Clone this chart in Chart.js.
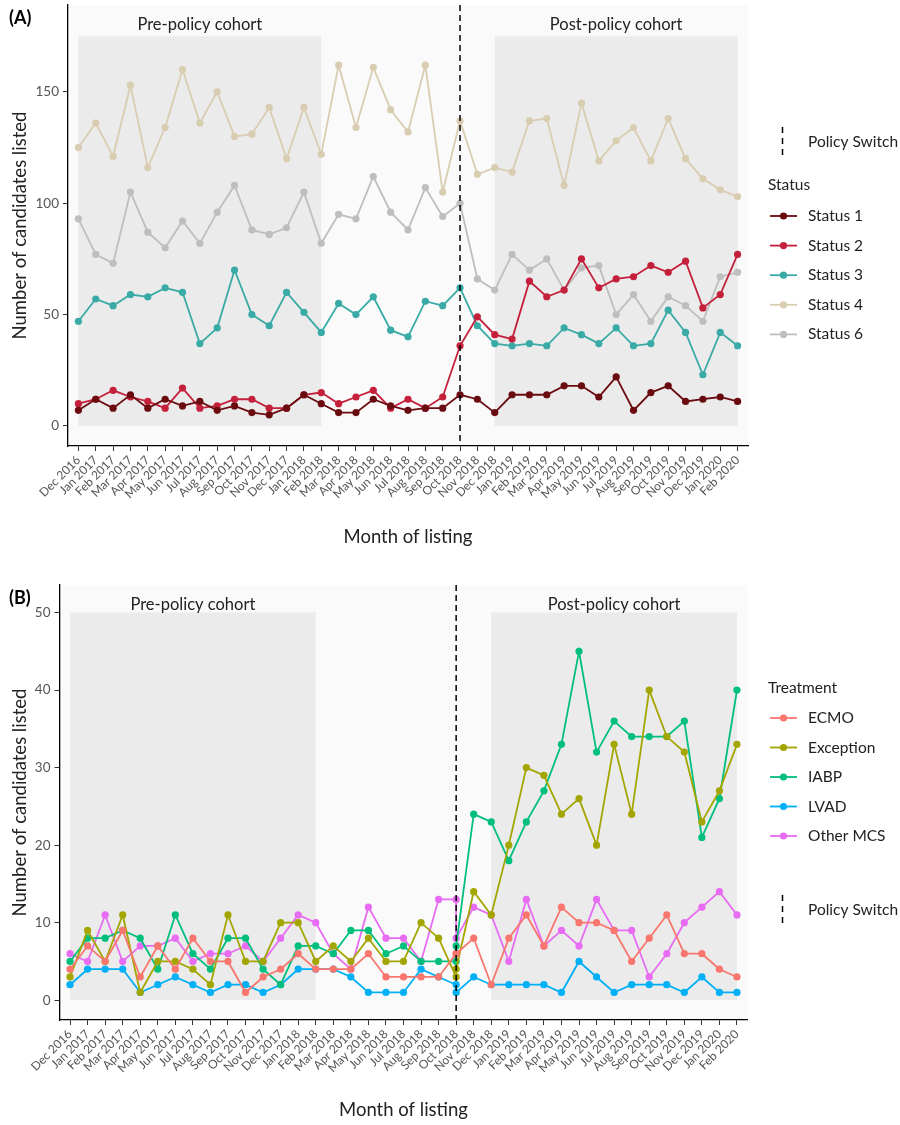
<!DOCTYPE html>
<html>
<head>
<meta charset="utf-8">
<script src="https://cdn.jsdelivr.net/npm/chart.js@4.4.1/dist/chart.umd.min.js"></script>
<style>
  html, body { margin: 0; padding: 0; background: #fff; }
  #wrap { position: relative; width: 900px; height: 1125px; }
  .panel { position: absolute; left: 0; width: 900px; }
</style>
</head>
<body>
<div id="wrap">
  <div class="panel" style="top:0;height:560px"><canvas id="chartA" width="900" height="560" style="width:900px;height:560px"></canvas></div>
  <div class="panel" style="top:575px;height:550px"><canvas id="chartB" width="900" height="550" style="width:900px;height:550px"></canvas></div>
</div>
<script>
const months = ['Dec 2016', 'Jan 2017', 'Feb 2017', 'Mar 2017', 'Apr 2017', 'May 2017', 'Jun 2017', 'Jul 2017',
  'Aug 2017', 'Sep 2017', 'Oct 2017', 'Nov 2017', 'Dec 2017', 'Jan 2018', 'Feb 2018', 'Mar 2018', 'Apr 2018',
  'May 2018', 'Jun 2018', 'Jul 2018', 'Aug 2018', 'Sep 2018', 'Oct 2018', 'Nov 2018', 'Dec 2018', 'Jan 2019',
  'Feb 2019', 'Mar 2019', 'Apr 2019', 'May 2019', 'Jun 2019', 'Jul 2019', 'Aug 2019', 'Sep 2019', 'Oct 2019',
  'Nov 2019', 'Dec 2019', 'Jan 2020', 'Feb 2020'];

const policyMonth = 'Oct 2018';
const preCohort = ['Dec 2016', 'Feb 2018'];
const postCohort = ['Dec 2018', 'Feb 2020'];

// (A) candidates listed by status
const status1 = [7, 12, 8, 14, 8, 12, 9, 11, 7, 9, 6, 5, 8, 14, 10, 6, 6, 12, 9, 7, 8, 8, 14, 12, 6, 14, 14, 14, 18, 18, 13, 22, 7, 15, 18, 11, 12, 13, 11];
const status2 = [10, 12, 16, 13, 11, 8, 17, 8, 9, 12, 12, 8, 8, 14, 15, 10, 13, 16, 8, 12, 8, 13, 36, 49, 41, 39, 65, 58, 61, 75, 62, 66, 67, 72, 69, 74, 53, 59, 77];
const status3 = [47, 57, 54, 59, 58, 62, 60, 37, 44, 70, 50, 45, 60, 51, 42, 55, 50, 58, 43, 40, 56, 54, 62, 45, 37, 36, 37, 36, 44, 41, 37, 44, 36, 37, 52, 42, 23, 42, 36];
const status4 = [125, 136, 121, 153, 116, 134, 160, 136, 150, 130, 131, 143, 120, 143, 122, 162, 134, 161, 142, 132, 162, 105, 137, 113, 116, 114, 137, 138, 108, 145, 119, 128, 134, 119, 138, 120, 111, 106, 103];
const status6 = [93, 77, 73, 105, 87, 80, 92, 82, 96, 108, 88, 86, 89, 105, 82, 95, 93, 112, 96, 88, 107, 94, 100, 66, 61, 77, 70, 75, 61, 71, 72, 50, 59, 47, 58, 54, 47, 67, 69];
const ticksA = [0, 50, 100, 150];

// (B) candidates listed by treatment; Oct 2018 has a pre- and a post-policy value
const ecmo = [4, 7, 5, 9, 3, 7, 4, 8, 5, 5, 1, 3, 4, 6, 4, 4, 4, 6, 3, 3, 3, 3, 6, 8, 2, 8, 11, 7, 12, 10, 10, 9, 5, 8, 11, 6, 6, 4, 3];
const exception = [3, 9, 5, 11, 1, 5, 5, 4, 2, 11, 5, 5, 10, 10, 5, 7, 5, 8, 5, 5, 10, 8, 3, 14, 11, 20, 30, 29, 24, 26, 20, 33, 24, 40, 34, 32, 23, 27, 33];
const iabp = [5, 8, 8, 9, 8, 4, 11, 6, 4, 8, 8, 4, 2, 7, 7, 6, 9, 9, 6, 7, 5, 5, 5, 24, 23, 18, 23, 27, 33, 45, 32, 36, 34, 34, 34, 36, 21, 26, 40];
const lvad = [2, 4, 4, 4, 1, 2, 3, 2, 1, 2, 2, 1, 2, 4, 4, 4, 3, 1, 1, 1, 4, 3, 2, 3, 2, 2, 2, 2, 1, 5, 3, 1, 2, 2, 2, 1, 3, 1, 1];
const otherMcs = [6, 5, 11, 5, 7, 7, 8, 5, 6, 6, 7, 5, 8, 11, 10, 6, 4, 12, 8, 8, 5, 13, 13, 12, 11, 5, 13, 7, 9, 7, 13, 9, 9, 3, 6, 10, 12, 14, 11];
const octPost = { ecmo: 6, exception: 4, iabp: 7, lvad: 1, otherMcs: 8 };
const ticksB = [0, 10, 20, 30, 40, 50];

const FONT = "Lato, 'Open Sans', sans-serif";
const policyIdx = months.indexOf(policyMonth);

function toPoints(values, postValue) {
  const pts = [];
  values.forEach((v, i) => {
    pts.push({ x: i, y: v });
    if (i === policyIdx && postValue !== undefined) pts.push({ x: i, y: postValue });
  });
  return pts;
}

function series(label, values, color, postValue) {
  return {
    label: label,
    data: toPoints(values, postValue),
    borderColor: color,
    backgroundColor: color,
    pointBackgroundColor: color,
    borderWidth: 1.8,
    pointRadius: 3.6,
    pointBorderWidth: 0,
    tension: 0
  };
}

const panelDecor = {
  id: 'panelDecor',
  beforeDraw(chart, args, o) {
    const { ctx, chartArea: a, scales: { x, y } } = chart;
    ctx.save();
    ctx.fillStyle = '#fafafa';
    ctx.fillRect(a.left, a.top, a.right - a.left, a.bottom - a.top);
    const y0 = y.getPixelForValue(o.shadeTop), y1 = y.getPixelForValue(0);
    ctx.font = '16.5px ' + FONT;
    ctx.textAlign = 'center';
    ctx.textBaseline = 'middle';
    o.cohorts.forEach(c => {
      const x0 = x.getPixelForValue(months.indexOf(c.range[0]));
      const x1 = x.getPixelForValue(months.indexOf(c.range[1]));
      ctx.fillStyle = '#ebebeb';
      ctx.fillRect(x0, y0, x1 - x0, y1 - y0);
      ctx.fillStyle = '#222';
      ctx.fillText(c.label, (x0 + x1) / 2, y.getPixelForValue(o.labelY));
    });
    ctx.restore();
  },
  afterDatasetsDraw(chart) {
    const { ctx, chartArea: a, scales: { x } } = chart;
    const px = x.getPixelForValue(policyIdx);
    ctx.save();
    ctx.strokeStyle = '#000';
    ctx.lineWidth = 1.5;
    ctx.setLineDash([6, 4]);
    ctx.beginPath();
    ctx.moveTo(px, a.top);
    ctx.lineTo(px, a.bottom);
    ctx.stroke();
    ctx.restore();
  },
  afterDraw(chart, args, o) {
    const { ctx, chartArea: a } = chart;
    ctx.save();
    // panel tag
    ctx.fillStyle = '#000';
    ctx.font = 'bold 18px ' + FONT;
    ctx.textAlign = 'left';
    ctx.textBaseline = 'middle';
    ctx.fillText(o.tag, 9, o.tagY);
    // axis titles
    ctx.font = '18.5px ' + FONT;
    ctx.fillStyle = '#222';
    ctx.textAlign = 'center';
    ctx.fillText('Month of listing', (a.left + a.right) / 2, o.xTitleY);
    ctx.save();
    ctx.translate(20, (a.top + a.bottom) / 2);
    ctx.rotate(-Math.PI / 2);
    ctx.fillText('Number of candidates listed', 0, 0);
    ctx.restore();
    // legend
    ctx.font = '15.5px ' + FONT;
    ctx.textAlign = 'left';
    ctx.fillText(o.legendTitle, 768, o.legendTitleY);
    chart.data.datasets.forEach((ds, i) => {
      const ly = o.legendY0 + i * o.legendStep;
      ctx.strokeStyle = ds.borderColor;
      ctx.lineWidth = 1.8;
      ctx.beginPath();
      ctx.moveTo(770, ly);
      ctx.lineTo(797, ly);
      ctx.stroke();
      ctx.fillStyle = ds.borderColor;
      ctx.beginPath();
      ctx.arc(783.5, ly, 3.6, 0, Math.PI * 2);
      ctx.fill();
      ctx.fillStyle = '#222';
      ctx.fillText(ds.label, 808, ly);
    });
    ctx.strokeStyle = '#000';
    ctx.lineWidth = 1.5;
    ctx.setLineDash([6, 5]);
    ctx.beginPath();
    ctx.moveTo(782.5, o.switchY - 15);
    ctx.lineTo(782.5, o.switchY + 15);
    ctx.stroke();
    ctx.setLineDash([]);
    ctx.fillStyle = '#222';
    ctx.fillText('Policy Switch', 808, o.switchY);
    ctx.restore();
  }
};

function makeChart(id, datasets, yTicks, yMin, yMax, frame, decor) {
  return new Chart(document.getElementById(id), {
    type: 'line',
    data: { datasets: datasets },
    plugins: [panelDecor],
    options: {
      responsive: false,
      animation: false,
      layout: { padding: { left: 0, right: frame.right, top: frame.top, bottom: 0 } },
      scales: {
        x: {
          type: 'linear',
          min: -0.6,
          max: months.length - 0.4,
          afterBuildTicks: s => { s.ticks = months.map((m, i) => ({ value: i })); },
          afterFit: s => { s.height = frame.xHeight; s.paddingLeft = 0; s.paddingRight = 0; },
          ticks: {
            autoSkip: false,
            minRotation: 45,
            maxRotation: 45,
            padding: 2,
            color: '#555',
            font: { family: FONT, size: 12 },
            callback: v => months[v]
          },
          grid: { drawOnChartArea: false, drawTicks: true, tickLength: 5, color: '#333', tickWidth: 1 },
          border: { display: true, color: '#000', width: 1.3 }
        },
        y: {
          min: yMin,
          max: yMax,
          afterBuildTicks: s => { s.ticks = yTicks.map(v => ({ value: v })); },
          afterFit: s => { s.width = frame.yWidth; s.paddingTop = 0; s.paddingBottom = 0; },
          ticks: { padding: 4, color: '#555', font: { family: FONT, size: 13.5 } },
          grid: { drawOnChartArea: false, drawTicks: true, tickLength: 5, color: '#333', tickWidth: 1 },
          border: { display: true, color: '#000', width: 1.3 }
        }
      },
      plugins: {
        legend: { display: false },
        tooltip: { enabled: false },
        panelDecor: decor
      }
    }
  });
}

const cohorts = [
  { label: 'Pre-policy cohort', range: preCohort },
  { label: 'Post-policy cohort', range: postCohort }
];

makeChart('chartA', [
  series('Status 1', status1, '#6a0b10'),
  series('Status 2', status2, '#c4203c'),
  series('Status 3', status3, '#39aaa6'),
  series('Status 4', status4, '#d9cdb1'),
  series('Status 6', status6, '#bebebe')
], ticksA, -9, 189,
  { right: 152, top: 5, xHeight: 114, yWidth: 68 },
  { cohorts: cohorts, shadeTop: 175, labelY: 180, tag: '(A)', tagY: 18, xTitleY: 537,
    legendTitle: 'Status', legendTitleY: 185, legendY0: 216, legendStep: 29.6, switchY: 142 });

makeChart('chartB', [
  series('ECMO', ecmo, '#F8766D', octPost.ecmo),
  series('Exception', exception, '#A3A500', octPost.exception),
  series('IABP', iabp, '#00BF7D', octPost.iabp),
  series('LVAD', lvad, '#00B0F6', octPost.lvad),
  series('Other MCS', otherMcs, '#E76BF3', octPost.otherMcs)
], ticksB, -2.55, 53.55,
  { right: 152.5, top: 10, xHeight: 105, yWidth: 59.5 },
  { cohorts: cohorts, shadeTop: 50, labelY: 51, tag: '(B)', tagY: 23, xTitleY: 535,
    legendTitle: 'Treatment', legendTitleY: 113, legendY0: 143, legendStep: 29.5, switchY: 335 });
</script>
</body>
</html>
